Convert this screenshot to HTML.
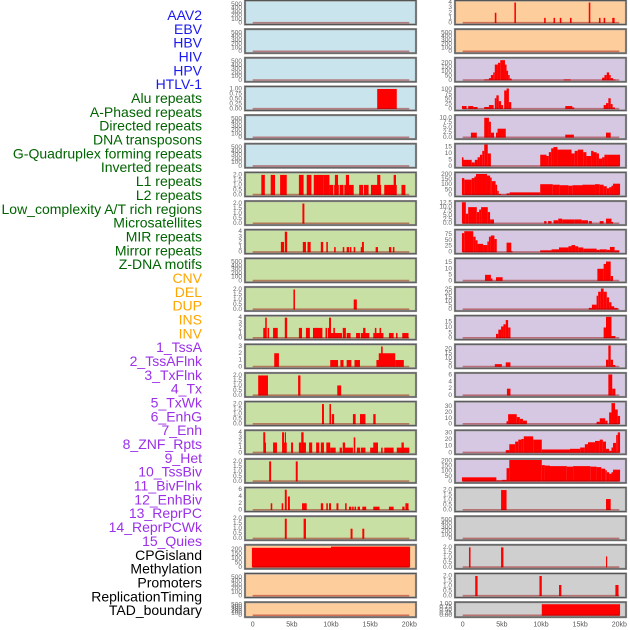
<!DOCTYPE html>
<html><head><meta charset="utf-8">
<style>
html,body{margin:0;padding:0;background:#fff;}
svg{display:block;font-family:"Liberation Sans",sans-serif;}
</style></head>
<body>
<svg id="chart" width="630" height="630" viewBox="0 0 630 630" xmlns="http://www.w3.org/2000/svg"></svg>
<script>
const trackLabels = ["AAV2","EBV","HBV","HIV","HPV","HTLV-1","Alu repeats","A-Phased repeats","Directed repeats","DNA transposons","G-Quadruplex forming repeats","Inverted repeats","L1 repeats","L2 repeats","Low_complexity A/T rich regions","Microsatellites","MIR repeats","Mirror repeats","Z-DNA motifs","CNV","DEL","DUP","INS","INV","1_TssA","2_TssAFlnk","3_TxFlnk","4_Tx","5_TxWk","6_EnhG","7_Enh","8_ZNF_Rpts","9_Het","10_TssBiv","11_BivFlnk","12_EnhBiv","13_ReprPC","14_ReprPCWk","15_Quies","CPGisland","Methylation","Promoters","ReplicationTiming","TAD_boundary"];
const labelColors = ["#1a1aee","#006400","#ffa500","#9b30e8","#000000"];
const labelGroupSizes = [6,13,5,15,5];

const xTicks = [0,5,10,15,20];
const xTickLabels = ["0","5kb","10kb","15kb","20kb"];

const E = ["0","100","200","300","400","500"];
const leftColors = ["#c9e4ec","#c9e4ec","#c9e4ec","#c9e4ec","#c9e4ec","#c9e4ec","#c8e0a4","#c8e0a4","#c8e0a4","#c8e0a4","#c8e0a4","#c8e0a4","#c8e0a4","#c8e0a4","#c8e0a4","#c8e0a4","#c8e0a4","#c8e0a4","#c8e0a4","#fdcd9c","#fdcd9c","#fdcd9c"];
const leftYmax = [560,560,560,1.05,560,560,2.1,2.1,4.1,560,2.1,4.1,3.1,2.1,2.1,4.1,2.1,6.2,2.1,233,560,560];
const leftTicks = [E,E,E,["0.00","0.25","0.50","0.75","1.00"],E,E,["0.0","0.5","1.0","1.5","2.0"],["0.0","0.5","1.0","1.5","2.0"],["0","1","2","3","4"],E,["0.0","0.5","1.0","1.5","2.0"],["0","1","2","3","4"],["0","1","2","3"],["0.0","0.5","1.0","1.5","2.0"],["0.0","0.5","1.0","1.5","2.0"],["0","1","2","3","4"],["0.0","0.5","1.0","1.5","2.0"],["0","2","4","6"],["0.0","0.5","1.0","1.5","2.0"],["0","50","100","150","200"],E,E];
const leftSegments = [
[],[],[],
[[15.9,18.4,1]],
[],[],
[[1.1,1.55,2],[2.3,2.85,2],[3.5,4.35,2],[5.9,6.5,2],[6.9,7.5,2],[7.8,9.0,2],[9.0,9.8,2],[9.8,10.3,1],[10.4,11.0,1],[10.5,10.9,2],[11.1,11.6,1],[11.7,12.9,1],[11.9,12.3,2],[13.6,14.1,1],[14.2,14.8,1],[15.1,16.4,1],[15.9,16.3,2],[16.8,18.4,1],[18.0,18.3,2],[19.0,19.5,1]],
[[6.35,6.6,2]],
[[3.6,4.0,2],[4.1,4.4,4],[6.4,6.8,2],[7.0,7.4,2],[8.7,9.0,2],[9.4,9.6,2],[10.4,10.6,1],[11.5,11.7,1],[12.0,12.3,1],[12.4,12.6,1],[12.9,13.1,1],[13.8,14.0,1],[13.95,14.2,2],[15.7,16.0,1],[17.4,17.7,1],[17.9,18.1,1]],
[],
[[5.2,5.4,2],[12.9,13.3,1]],
[[1.35,1.65,2],[1.6,1.8,4],[1.9,2.1,2],[2.6,3.2,2],[4.1,4.4,4],[5.9,6.3,2],[6.8,7.3,2],[7.7,8.2,2],[8.1,8.9,2],[9.3,9.5,2],[9.6,9.9,2],[9.75,10.0,4],[9.9,10.5,1],[10.3,10.5,2],[10.5,11.4,1],[11.5,11.9,2],[12.0,12.5,1],[13.2,13.7,1],[13.8,14.9,1],[14.1,14.4,2],[15.4,16.7,1],[15.6,15.8,2],[16.2,16.4,2],[17.4,18.0,1],[18.3,18.5,1],[19.1,19.9,1]],
[[2.75,3.35,2],[9.9,10.9,1],[11.2,11.6,1],[12.0,12.6,1],[13.0,13.7,1],[15.8,16.2,1],[16.1,18.2,2],[16.4,16.6,3],[18.2,19.3,1]],
[[0.7,1.95,2],[5.8,6.1,2],[10.8,11.3,1]],
[[8.85,9.1,2],[9.8,10.0,2],[10.1,10.4,1],[12.8,13.15,1],[13.7,14.4,1],[15.4,15.7,1]],
[[1.35,1.6,4],[1.5,1.7,2],[2.6,3.1,2],[3.75,4.0,4],[4.0,4.35,2],[4.1,4.25,4],[4.9,5.15,2],[5.9,6.2,2],[6.2,6.8,2],[6.2,6.5,4],[7.2,7.6,2],[8.1,8.5,2],[8.7,9.1,2],[9.4,9.9,2],[9.9,10.6,1],[11.1,11.4,1],[11.5,12.8,1],[11.5,11.8,2],[12.9,13.1,3],[13.3,13.7,1],[13.8,14.4,1],[15.0,16.0,1],[15.4,16.0,2],[16.4,16.6,1],[16.8,18.0,1],[18.4,20.0,1],[19.0,19.3,2]],
[[2.1,2.35,2],[5.5,5.75,2]],
[[2.3,2.5,2],[3.7,3.9,2],[4.1,4.35,6],[4.5,4.75,4],[6.3,6.9,2],[8.7,9.0,2],[9.4,9.6,2],[9.75,10.0,2],[10.7,10.95,2],[11.8,12.0,2],[12.3,12.6,1],[12.7,12.9,1],[13.0,13.2,1],[13.4,13.7,1],[14.0,14.5,1],[15.4,16.2,1],[17.4,18.0,1],[19.1,19.4,1],[19.5,19.9,2]],
[[4.1,4.35,2],[6.5,6.8,2],[12.5,12.75,1],[14.0,14.25,1]],
[[-0.1,10.0,217],[10.0,20.1,230]],
[],[]
];

const rightColors = ["#fdcd9c","#fdcd9c","#d6c8e2","#d6c8e2","#d6c8e2","#d6c8e2","#d6c8e2","#d6c8e2","#d6c8e2","#d6c8e2","#d6c8e2","#d6c8e2","#d6c8e2","#d6c8e2","#d6c8e2","#d6c8e2","#d6c8e2","#cfcfcf","#cfcfcf","#cfcfcf","#cfcfcf","#cfcfcf"];
const rightYmax = [4.1,560,240,108,10.6,16.4,206,12.8,88,17.4,26,19.7,23.7,6.2,36,32,206,2.1,560,2.1,2.1,1.05];
const rightTicks = [["0","1","2","3","4"],E,["0","50","100","150","200"],["0","25","50","75","100"],["0.0","2.5","5.0","7.5","10.0"],["0","5","10","15"],["0","50","100","150","200"],["0.0","2.5","5.0","7.5","10.0","12.5"],["0","25","50","75"],["0","5","10","15"],["0","5","10","15","20","25"],["0","5","10","15"],["0","5","10","15","20"],["0","2","4","6"],["0","10","20","30"],["0","10","20","30"],["0","50","100","150","200"],["0.0","0.5","1.0","1.5","2.0"],E,["0.0","0.5","1.0","1.5","2.0"],["0.0","0.5","1.0","1.5","2.0"],["0.00","0.25","0.50","0.75","1.00"]];
const rightSegments = [
[[4.1,4.3,2],[6.6,6.8,4],[10.4,10.6,1],[11.6,11.8,1],[12.4,12.6,1],[13.7,13.9,1],[16.1,16.3,4],[17.4,17.6,1],[18.0,18.2,1],[19.1,19.4,1]],
[],
[[2.75,3.35,10],[3.35,3.6,25],[3.6,3.9,60],[3.9,4.1,90],[4.1,4.5,180],[4.5,4.8,200],[4.8,5.4,230],[5.4,5.6,180],[5.6,5.8,110],[5.8,6.0,60],[6.0,6.25,20],[12.9,13.8,10],[17.8,18.1,30],[18.1,18.4,60],[18.4,18.7,90],[18.7,18.9,60],[18.9,19.2,25],[19.2,19.5,10]],
[[-0.1,0.5,15],[0.7,1.35,15],[1.35,1.9,10],[2.75,3.35,10],[3.35,3.95,20],[4.1,4.3,55],[4.3,4.6,70],[4.6,4.9,40],[4.9,5.15,20],[5.3,5.6,95],[5.6,5.9,105],[5.9,6.2,35],[13.1,14.0,15],[14.0,14.25,8],[18.0,18.3,20],[18.3,18.6,30],[18.6,18.9,55],[18.9,19.15,25],[19.15,19.45,8]],
[[1.05,1.8,2.5],[2.75,3.35,10],[3.35,3.6,8],[3.6,4.0,2.5],[4.25,4.45,2.5],[4.45,5.5,4.5],[13.1,14.2,1.5],[18.3,18.9,2.5]],
[[-0.1,0.1,7],[0.1,1.15,5],[1.15,1.55,3],[1.55,1.9,5],[1.9,2.2,7],[2.2,2.5,9],[2.5,2.75,12],[2.75,3.2,17],[3.2,3.6,10],[9.9,10.7,9],[10.7,11.0,8],[11.0,11.3,11],[11.3,11.6,14],[11.6,12.1,15],[12.1,13.9,13],[13.9,14.3,10],[14.3,14.7,12],[14.7,15.4,13],[15.4,15.8,11],[15.8,16.4,8],[16.4,16.7,12],[16.7,17.1,11],[17.1,17.4,10],[17.4,17.8,6],[17.8,18.1,7],[18.1,18.5,9],[18.5,20.1,9]],
[[-0.1,0.2,165],[0.2,1.15,150],[1.15,1.5,165],[1.5,1.7,180],[1.7,3.1,205],[3.1,3.5,190],[3.5,3.7,170],[3.7,4.2,135],[4.2,4.4,100],[4.4,4.6,40],[4.6,4.9,10],[4.9,5.6,3],[5.6,6.0,15],[6.0,9.9,25],[9.9,11.5,105],[11.5,12.4,100],[12.4,13.5,95],[13.5,14.0,90],[14.0,15.3,95],[15.3,16.9,100],[16.9,17.5,105],[17.5,18.0,100],[18.0,18.4,85],[18.4,18.7,65],[18.7,19.0,75],[19.0,19.2,90],[19.2,20.1,110]],
[[-0.1,0.4,13],[0.4,0.7,6],[0.7,1.8,10],[1.8,2.1,7],[2.1,2.35,8.5],[2.35,3.2,10],[3.2,3.5,7],[3.5,4.0,2.5],[10.4,10.7,1.5],[10.9,11.35,1.5],[11.6,12.2,2],[12.2,12.7,3],[12.7,14.25,2.5],[14.25,15.2,2.5],[15.2,16.0,2],[16.1,16.5,1.5],[17.5,18.0,1.5],[18.3,19.0,3],[19.0,19.2,1]],
[[-0.1,0.2,80],[0.2,1.35,88],[1.35,1.65,65],[1.65,1.9,50],[1.9,2.6,35],[2.6,3.15,30],[3.15,3.35,45],[3.35,3.6,65],[3.6,4.05,70],[4.05,4.35,55],[5.6,6.2,40],[6.2,6.35,5],[9.9,11.35,8],[11.35,12.3,12],[12.3,13.5,20],[13.5,13.9,25],[13.9,14.35,30],[14.35,14.75,25],[14.75,15.4,20],[15.4,17.1,15],[17.1,17.5,10],[17.5,18.4,12],[18.4,18.8,10],[18.8,19.4,22],[19.4,20.0,8]],
[[2.85,3.6,5],[3.6,3.8,2],[4.25,5.1,3],[17.2,18.0,10],[18.0,18.3,14],[18.3,18.9,16],[18.9,19.2,4]],
[[16.1,16.5,2],[16.5,17.1,6],[17.1,17.3,17],[17.3,17.65,22],[17.65,18.0,26],[18.0,18.4,22],[18.4,18.7,15],[18.7,19.0,9],[19.0,19.35,4],[19.35,19.8,2]],
[[4.25,4.55,4],[4.55,4.9,8],[4.9,5.2,11],[5.2,5.5,13],[5.5,5.8,17],[5.8,6.1,10],[18.0,18.3,10],[18.3,19.0,20],[19.0,19.5,2]],
[[4.1,5.0,3],[5.5,6.1,5],[18.3,18.6,8],[18.6,18.9,24],[18.9,19.2,8],[19.2,19.5,2]],
[[5.65,6.1,2],[18.6,19.1,6.2],[19.1,19.5,2]],
[[5.6,5.8,5],[5.8,6.9,17],[6.9,7.3,12],[7.3,7.7,9],[7.7,8.2,6],[17.1,17.5,4],[17.5,18.2,10],[18.2,18.5,6],[18.7,19.0,20],[19.0,19.45,36],[19.45,19.8,25],[19.8,20.1,14]],
[[5.5,5.95,4],[5.95,6.7,13],[6.7,7.1,17],[7.1,7.5,20],[7.5,7.8,21],[7.8,9.0,25],[9.0,10.1,20],[10.1,13.7,5],[13.7,15.0,6],[15.0,15.6,8],[15.6,16.0,13],[16.0,16.9,16],[16.9,17.5,18],[17.5,17.9,20],[17.9,18.3,17],[18.3,18.7,6],[18.7,19.0,3],[19.0,19.2,8],[19.2,19.6,15],[19.6,19.8,27],[19.8,20.1,31]],
[[-0.1,4.3,40],[4.3,5.0,10],[5.0,5.6,15],[5.6,5.95,130],[5.95,10.1,210],[10.1,10.5,160],[10.5,11.15,155],[11.15,13.3,150],[13.3,14.1,145],[14.1,16.3,150],[16.3,17.1,145],[17.1,17.7,140],[17.7,18.2,125],[18.2,18.4,110],[18.4,18.7,90],[18.7,19.0,75],[19.0,19.2,90],[19.2,20.1,115]],
[[4.9,5.6,2],[18.3,18.9,1.1]],
[],
[[0.8,1.0,2],[4.9,5.2,2],[18.3,18.45,1.1]],
[[1.6,1.9,2],[9.8,10.1,2],[12.3,12.6,1.1],[19.5,19.9,1.1]],
[[10.1,20.1,1.0]]
];

const NS = "http://www.w3.org/2000/svg";
const svg = document.getElementById("chart");
function mk(tag, attrs, parent){ const e=document.createElementNS(NS,tag); for(const k in attrs) e.setAttribute(k,attrs[k]); (parent||svg).appendChild(e); return e; }

// labels
let li = 0;
labelGroupSizes.forEach((n,g)=>{
  for(let j=0;j<n;j++){
    const t = mk("text",{x:202,y:15+li*13.84,"text-anchor":"end","dominant-baseline":"central","font-size":"14",fill:labelColors[g]});
    t.textContent = trackLabels[li];
    
    
    li++;
  }
});

const ROW = 28.65;
function drawColumn(side, left, right, x0kb, x20kb, colors, ymaxs, ticks, segs){
  const xScale = kb => x0kb + (x20kb - x0kb) * kb / 20;
  for(let i=0;i<22;i++){
    const top = i*ROW + 0.5, h = (i===21) ? 15 : 24;
    const bottom = top + h;
    const yScale = v => bottom - 1.5 - (v/ymaxs[i])*(h-3);
    const g = mk("g",{});
    
    
    const bg = mk("rect",{x:left,y:top,width:right-left,height:h,fill:colors[i],stroke:"#9a9a9a","stroke-width":2.2},g);
    
    
    mk("rect",{x:left,y:top,width:right-left,height:h,fill:"none",stroke:"#555","stroke-width":1},g);
    segs[i].forEach(s=>{
      const xa = xScale(s[0]), xb = xScale(s[1]), yv = yScale(s[2]);
      const r = mk("rect",{x:xa,y:yv,width:Math.max(0.8,xb-xa),height:(bottom-1.5)-yv,fill:"#ff0000"},g);
      
      
    });
    const bl = mk("line",{x1:xScale(0),x2:xScale(20),y1:bottom-1.8,y2:bottom-1.8,stroke:"rgba(150,0,0,0.45)","stroke-width":1.6},g);
    
    
    ticks[i].forEach(tl=>{
      const v = parseFloat(tl);
      const t = mk("text",{x:left-3,y:yScale(v),"text-anchor":"end","dominant-baseline":"central","font-size":"6.5",fill:"#666"},g);
      t.textContent = tl;
      
      
    });
  }
  xTicks.forEach((k,j)=>{
    const t = mk("text",{x:xScale(k),y:625,"text-anchor":"middle","dominant-baseline":"central","font-size":"7",fill:"#555"});
    t.textContent = xTickLabels[j];
    
    
  });
}
drawColumn("left",245,416,252.7,409.3,leftColors,leftYmax,leftTicks,leftSegments);
drawColumn("right",455,626,462.7,619.3,rightColors,rightYmax,rightTicks,rightSegments);
</script>
</body></html>
